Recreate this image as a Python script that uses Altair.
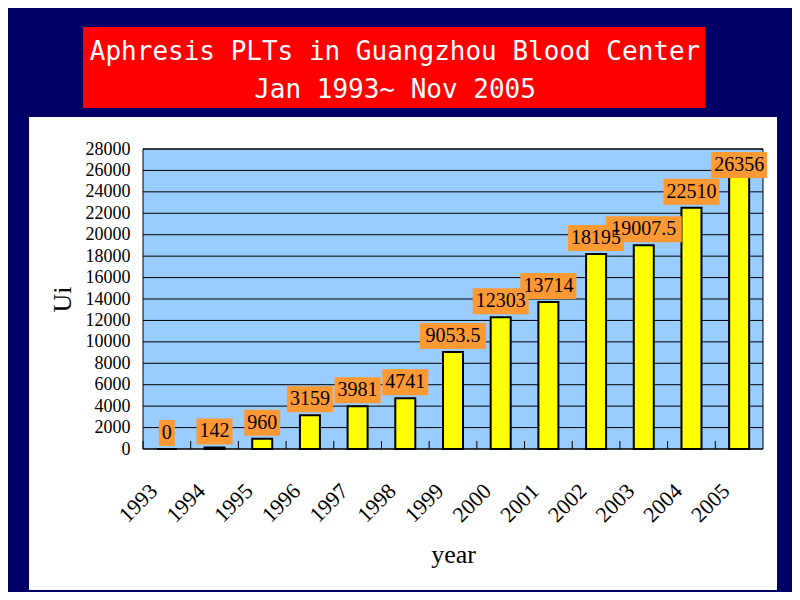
import altair as alt
import pandas as pd

# ---- data ----
years = ["1993", "1994", "1995", "1996", "1997", "1998", "1999",
         "2000", "2001", "2002", "2003", "2004", "2005"]
values = [0, 142, 960, 3159, 3981, 4741, 9053.5, 12303, 13714, 18195, 19007.5, 22510, 26356]
labels = ["0", "142", "960", "3159", "3981", "4741", "9053.5", "12303", "13714",
          "18195", "19007.5", "22510", "26356"]
y_ticks = list(range(0, 28001, 2000))
title_lines = ["Aphresis PLTs in Guangzhou Blood Center", "Jan 1993~ Nov 2005"]
x_title = "year"
y_title = "Ui"

W, H = 620, 300
SERIF = "Liberation Serif"

df = pd.DataFrame({"year": years, "value": values, "label": labels})
grid_df = pd.DataFrame({"value": y_ticks})
one = pd.DataFrame({"a": [0]})

xscale = alt.Scale(domain=years, paddingInner=0, paddingOuter=0)
yscale = alt.Scale(domain=[0, 28000], nice=False, zero=True)

x_axis = alt.Axis(
    labelAngle=-45, labelAlign="right", labelBaseline="middle",
    labelFont=SERIF, labelFontSize=22, labelColor="black",
    labelPadding=38, labelOffset=-13, ticks=False, domain=False, grid=False,
    titleFont=SERIF, titleFontSize=26, titleFontWeight="normal",
    titleColor="black", titlePadding=16, zindex=1,
)
y_axis = alt.Axis(
    values=y_ticks, format="d", labelFont=SERIF, labelFontSize=18, labelColor="black",
    labelPadding=13, ticks=False, domain=False, grid=False,
    titleFont=SERIF, titleFontSize=26, titleFontWeight="normal",
    titleColor="black", titlePadding=10, zindex=1,
)

x_main = alt.X("year:N", scale=xscale, axis=x_axis, sort=years, title=x_title)
y_main = alt.Y("value:Q", scale=yscale, axis=y_axis, title=y_title)

# decorative panels
white_panel = alt.Chart(one).mark_rect(color="white").encode(
    x=alt.value(-114), x2=alt.value(634), y=alt.value(-32), y2=alt.value(441))
red_box = alt.Chart(one).mark_rect(color="#FF0000").encode(
    x=alt.value(-60), x2=alt.value(562), y=alt.value(-122), y2=alt.value(-41))
title1 = alt.Chart(one).mark_text(
    font="DejaVu Sans Mono", fontSize=26, color="white", align="center", baseline="middle"
).encode(x=alt.value(252), y=alt.value(-97), text=alt.value(title_lines[0]))
title2 = alt.Chart(one).mark_text(
    font="DejaVu Sans Mono", fontSize=26, color="white", align="center", baseline="middle"
).encode(x=alt.value(252), y=alt.value(-59), text=alt.value(title_lines[1]))

plot_bg = alt.Chart(one).mark_rect(color="#99CCFF").encode(
    x=alt.value(0), x2=alt.value(W), y=alt.value(0), y2=alt.value(H))

grid = alt.Chart(grid_df).mark_rule(color="black", strokeWidth=1).encode(y=y_main)

border = alt.Chart(one).mark_rect(filled=False, stroke="black", strokeWidth=1).encode(
    x=alt.value(0), x2=alt.value(W), y=alt.value(0), y2=alt.value(H))

bars = alt.Chart(df).mark_bar(
    color="#FFFF00", stroke="black", strokeWidth=2, size=20
).encode(x=x_main, y=y_main)

ticks = alt.Chart(df).mark_rule(color="black", strokeWidth=1).encode(
    x=alt.X("year:N", scale=xscale, axis=x_axis, sort=years, title=x_title, bandPosition=0),
    y=alt.value(H), y2=alt.value(H - 8))

# data labels are kept inside the plot area (as the spreadsheet does)
boxes = alt.Chart(df).mark_bar(
    color="#FF9933", width=alt.ExprRef(expr="length(datum.label)*10+6"),
    yOffset=alt.ExprRef(expr="max(-29, 3 - scale('y', datum.value))"),
    y2Offset=alt.ExprRef(expr="max(-3, 29 - scale('y', datum.value))"),
).encode(x=x_main, y=y_main, y2="value:Q")

texts = alt.Chart(df).mark_text(
    font=SERIF, fontSize=20, color="black", align="center", baseline="middle",
    yOffset=alt.ExprRef(expr="max(-16, 16 - scale('y', datum.value))"),
).encode(x=x_main, y=y_main, text="label:N")

chart = alt.layer(
    white_panel, red_box, title1, title2, plot_bg, grid, border, bars, ticks, boxes, texts
).properties(
    width=W, height=H, background="#000066",
    padding={"left": 135, "top": 141, "right": 29, "bottom": 143},
    autosize=alt.AutoSizeParams(type="none"),
).configure_view(stroke=None)

chart.save("out.html", embed_options={"renderer": "svg", "actions": False})
